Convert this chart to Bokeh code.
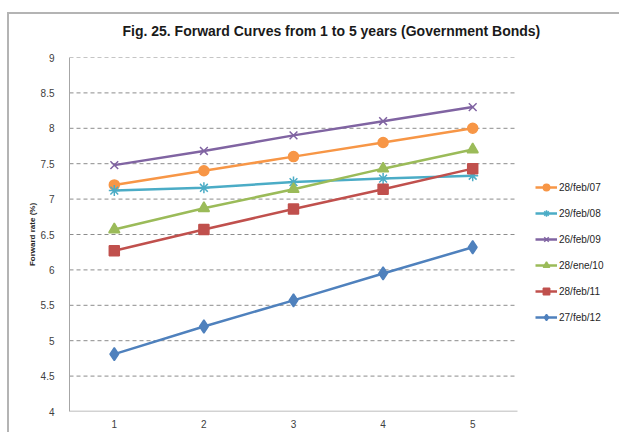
from bokeh.plotting import figure
from bokeh.models import (Range1d, FixedTicker, NumeralTickFormatter,
                          Legend, LegendItem)
from bokeh.embed import file_html
from bokeh.resources import INLINE

# Maturity buckets (years) on the x axis
maturities = [1, 2, 3, 4, 5]
maturity_labels = ["1", "2", "3", "4", "5"]

# Curve dates shown in the legend
curve_dates = ["28/feb/07", "29/feb/08", "26/feb/09", "28/ene/10", "28/feb/11", "27/feb/12"]

# Forward rates (%) for each curve date
rates_feb07 = [7.20, 7.40, 7.60, 7.80, 8.00]
rates_feb08 = [7.12, 7.16, 7.24, 7.29, 7.33]
rates_feb09 = [7.48, 7.68, 7.90, 8.10, 8.30]
rates_ene10 = [6.57, 6.87, 7.14, 7.43, 7.70]
rates_feb11 = [6.27, 6.57, 6.86, 7.14, 7.43]
rates_feb12 = [4.81, 5.20, 5.57, 5.95, 6.32]

y_ticks = [4, 4.5, 5, 5.5, 6, 6.5, 7, 7.5, 8, 8.5, 9]

series = [
    (curve_dates[0], rates_feb07, "#F79646", "circle", 10),
    (curve_dates[1], rates_feb08, "#4BACC6", "asterisk", 11),
    (curve_dates[2], rates_feb09, "#8064A2", "x", 11),
    (curve_dates[3], rates_ene10, "#9BBB59", "triangle", 11),
    (curve_dates[4], rates_feb11, "#C0504D", "square", 10),
    (curve_dates[5], rates_feb12, "#4F81BD", "diamond", 13),
]

# Plot area spans categories 0.5..5.5; the frame keeps going to the right
# so the legend can live inside it.
cat_lo, cat_hi = 0.5, 5.5
frame_px = 552
cat_px = 448
x_end = cat_lo + (cat_hi - cat_lo) * frame_px / cat_px

p = figure(
    width=612, height=420,
    x_range=Range1d(cat_lo, x_end),
    y_range=Range1d(4, 9),
    output_backend="svg",
    toolbar_location=None,
    min_border_left=60, min_border_right=0,
    min_border_top=43, min_border_bottom=23,
    margin=(12, 0, 0, 7),
    background_fill_color="white",
    border_fill_color="white",
)
p.styles = {"border-left": "2px solid #b4b4b4", "border-top": "2px solid #b4b4b4"}
p.outline_line_color = None

# Two-line title block (second line blank) lifts the heading away from the plot
p.title.text = "Fig. 25. Forward Curves from 1 to 5 years (Government Bonds)\n "
p.title.text_font = "Liberation Sans"
p.title.text_font_size = "14px"
p.title.text_font_style = "bold"
p.title.text_color = "#1a1a1a"
p.title.align = "left"
p.title.offset = 53
p.title.standoff = 6

# Axes
p.xaxis.ticker = FixedTicker(ticks=maturities)
p.xaxis.major_label_overrides = {m: s for m, s in zip(maturities, maturity_labels)}
p.xaxis.major_tick_line_color = None
p.xaxis.major_tick_out = 0
p.xaxis.major_tick_in = 0
p.xaxis.minor_tick_line_color = None
p.xaxis.axis_line_color = None
p.xaxis.major_label_text_font = "Liberation Sans"
p.xaxis.major_label_text_font_size = "10px"
p.xaxis.major_label_text_color = "#404040"
p.xaxis.major_label_standoff = 8

p.yaxis.ticker = FixedTicker(ticks=y_ticks)
p.yaxis.formatter = NumeralTickFormatter(format="0.[0]")
p.yaxis.major_tick_line_color = None
p.yaxis.major_tick_out = 0
p.yaxis.major_tick_in = 0
p.yaxis.minor_tick_line_color = None
p.yaxis.axis_line_color = "#a6a6a6"
p.yaxis.major_label_text_font = "Liberation Sans"
p.yaxis.major_label_text_font_size = "10px"
p.yaxis.major_label_text_color = "#404040"
p.yaxis.major_label_standoff = 15
p.yaxis.axis_label = "Forward rate (%)"
p.yaxis.axis_label_text_font = "Liberation Sans"
p.yaxis.axis_label_text_font_size = "8px"
p.yaxis.axis_label_text_font_style = "bold"
p.yaxis.axis_label_text_color = "#262626"
p.yaxis.axis_label_standoff = 1

# Dashed horizontal gridlines and the bottom axis line, limited to the category span
p.xgrid.grid_line_color = None
p.ygrid.grid_line_color = None
grid_levels = y_ticks[1:]
p.segment(x0=[cat_lo] * len(grid_levels), x1=[cat_hi] * len(grid_levels),
          y0=grid_levels, y1=grid_levels,
          line_color="#8c8c8c", line_dash="4 3", line_width=1)
p.segment(x0=[cat_lo], x1=[cat_hi], y0=[y_ticks[0]], y1=[y_ticks[0]],
          line_color="#a6a6a6", line_width=1.5)

items = []
for label, vals, color, marker, size in series:
    ln = p.line(maturities, vals, line_color=color, line_width=2.5)
    sc = p.scatter(maturities, vals, marker=marker, size=size,
                   fill_color=color, line_color=color, line_width=1.5)
    items.append(LegendItem(label=label, renderers=[ln, sc]))

legend = Legend(
    items=items,
    location=(466, 86),
    padding=0, margin=0,
    spacing=10,
    glyph_width=22, glyph_height=16, label_height=16,
    label_standoff=2,
    label_text_font="Liberation Sans",
    label_text_font_size="10px",
    label_text_color="#262626",
    border_line_color=None,
    background_fill_alpha=0,
)
p.add_layout(legend, "center")

open("out.html", "w").write(file_html(p, INLINE))
